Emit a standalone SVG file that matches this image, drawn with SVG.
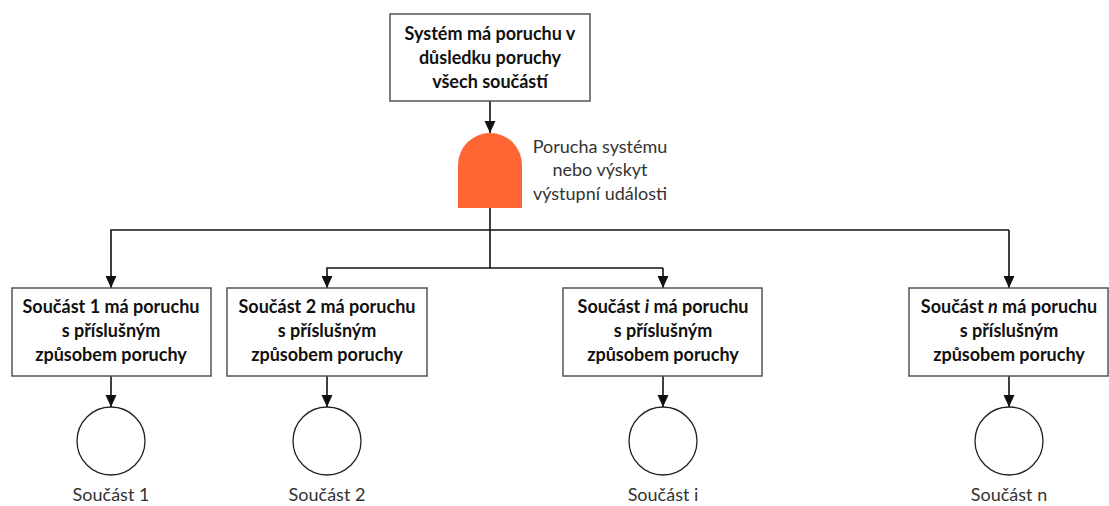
<svg xmlns="http://www.w3.org/2000/svg" width="1109" height="506" viewBox="0 0 1109 506">
  <style>
    .box { fill: #ffffff; stroke: #555555; stroke-width: 1.5; }
    .leaf { fill: #ffffff; stroke: #222222; stroke-width: 1.3; }
    .wire { fill: none; stroke: #111111; stroke-width: 1.6; }
    .bold { font-family: Lato, "Liberation Sans", sans-serif; font-weight: bold; font-size: 18px; fill: #111111; text-anchor: middle; }
    .note { font-family: Lato, "Liberation Sans", sans-serif; font-size: 18px; fill: #333333; text-anchor: middle; }
  </style>
  <defs>
    <marker id="arrow" markerUnits="userSpaceOnUse" markerWidth="14" markerHeight="14" viewBox="0 0 14 14" refX="13" refY="7" orient="auto">
      <path d="M1,1.5 L13,7 L1,12.5 Z" fill="#111111"/>
    </marker>
  </defs>
  <rect width="1109" height="506" fill="#ffffff"/>

  <!-- connectors -->
  <g id="connectors">
    <path class="wire" d="M490,101 V133" marker-end="url(#arrow)"/>
    <path class="wire" d="M490,208 V268"/>
    <path class="wire" d="M1009,230 H111 V288" marker-end="url(#arrow)"/>
    <path class="wire" d="M1009,230 V288" marker-end="url(#arrow)"/>
    <path class="wire" d="M663,268 H327 V288" marker-end="url(#arrow)"/>
    <path class="wire" d="M663,268 V288" marker-end="url(#arrow)"/>
    <path class="wire" d="M111,376 V407" marker-end="url(#arrow)"/>
    <path class="wire" d="M327,376 V407" marker-end="url(#arrow)"/>
    <path class="wire" d="M663,376 V407" marker-end="url(#arrow)"/>
    <path class="wire" d="M1009,376 V407" marker-end="url(#arrow)"/>
  </g>

  <!-- top event -->
  <g id="top-event">
    <rect class="box" x="390" y="14" width="200" height="87"/>
    <text class="bold" x="490" y="40">Systém má poruchu v</text>
    <text class="bold" x="490" y="64">důsledku poruchy</text>
    <text class="bold" x="490" y="88">všech součástí</text>
  </g>

  <!-- AND gate -->
  <g id="and-gate">
    <path d="M458,208 V165 A32,32 0 0 1 522,165 V208 Z" fill="#ff6633"/>
    <text class="note" x="600" y="153">Porucha systému</text>
    <text class="note" x="600" y="176">nebo výskyt</text>
    <text class="note" x="600" y="200">výstupní události</text>
  </g>

  <!-- component events -->
  <g id="event-1">
    <rect class="box" x="12" y="288" width="199" height="88"/>
    <text class="bold" x="111" y="313">Součást 1 má poruchu</text>
    <text class="bold" x="111" y="337">s příslušným</text>
    <text class="bold" x="111" y="361">způsobem poruchy</text>
  </g>
  <g id="event-2">
    <rect class="box" x="227" y="288" width="200" height="88"/>
    <text class="bold" x="327" y="313">Součást 2 má poruchu</text>
    <text class="bold" x="327" y="337">s příslušným</text>
    <text class="bold" x="327" y="361">způsobem poruchy</text>
  </g>
  <g id="event-i">
    <rect class="box" x="563" y="288" width="199" height="88"/>
    <text class="bold" x="663" y="313">Součást <tspan font-style="italic">i</tspan> má poruchu</text>
    <text class="bold" x="663" y="337">s příslušným</text>
    <text class="bold" x="663" y="361">způsobem poruchy</text>
  </g>
  <g id="event-n">
    <rect class="box" x="909" y="288" width="199" height="88"/>
    <text class="bold" x="1009" y="313">Součást <tspan font-style="italic">n</tspan> má poruchu</text>
    <text class="bold" x="1009" y="337">s příslušným</text>
    <text class="bold" x="1009" y="361">způsobem poruchy</text>
  </g>

  <!-- basic events -->
  <g id="basic-1">
    <circle class="leaf" cx="111" cy="441" r="34"/>
    <text class="note" x="111" y="501">Součást 1</text>
  </g>
  <g id="basic-2">
    <circle class="leaf" cx="327" cy="441" r="34"/>
    <text class="note" x="327" y="501">Součást 2</text>
  </g>
  <g id="basic-i">
    <circle class="leaf" cx="663" cy="441" r="34"/>
    <text class="note" x="663" y="501">Součást i</text>
  </g>
  <g id="basic-n">
    <circle class="leaf" cx="1009" cy="441" r="34"/>
    <text class="note" x="1009" y="501">Součást n</text>
  </g>
</svg>
